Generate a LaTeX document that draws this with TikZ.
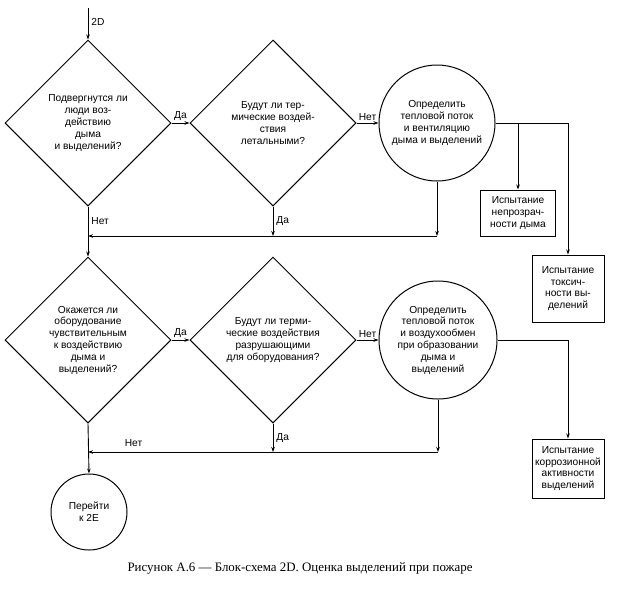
\documentclass[tikz,border=0pt]{standalone}
\usepackage{fontspec}
\setmainfont{Liberation Serif}
\setsansfont{Liberation Sans}
\usetikzlibrary{shapes.geometric,arrows.meta}
\begin{document}
\begin{tikzpicture}[x=1pt,y=-1pt,
  txt/.style={font=\sffamily\fontsize{10.2}{11.8}\selectfont, align=center},
  dia/.style={diamond, draw, line width=1pt, minimum width=166pt, minimum height=166pt, inner sep=0pt, txt},
  circ/.style={circle, draw, line width=1pt, inner sep=0pt, txt},
  tbox/.style={rectangle, draw, line width=1pt, inner sep=0pt, txt},
  lbl/.style={font=\sffamily\fontsize{10.2}{11.8}\selectfont, inner sep=1pt},
  line/.style={line width=0.9pt},
  arr/.style={line, -{Stealth[length=5pt,width=3.5pt]}}]
\useasboundingbox (0,0) rectangle (617,592);

\coordinate (start) at (88,8);
\node[dia] (d1) at (88,123) {Подвергнутся ли\\люди воз-\\действию\\дыма\\и выделений?};
\node[dia] (d2) at (273,123) {Будут ли тер-\\мические воздей-\\ствия\\летальными?};
\node[circ, minimum size=116pt] (c1) at (437,123) {Определить\\тепловой поток\\и вентиляцию\\дыма и выделений};
\node[tbox, minimum width=75pt, minimum height=46pt] (b1) at (518,213) {Испытание\\непрозрач-\\ности дыма};
\node[tbox, minimum width=72pt, minimum height=67pt] (b2) at (568,288.5) {Испытание\\токсич-\\ности вы-\\делений};

\node[dia] (d3) at (88,340) {Окажется ли\\оборудование\\чувствительным\\к воздействию\\дыма и\\выделений?};
\node[dia] (d4) at (273,340) {Будут ли терми-\\ческие воздействия\\разрушающими\\для оборудования?};
\node[circ, minimum size=118pt] (c2) at (438,340) {Определить\\тепловой поток\\и воздухообмен\\при образовании\\дыма и\\выделений};
\node[tbox, minimum width=72pt, minimum height=59pt] (b3) at (568,468.5) {Испытание\\коррозионной\\активности\\выделений};

\node[circ, minimum size=76pt] (c3) at (89,512) {Перейти\\к 2Е};

\coordinate (j1) at (437,236);
\coordinate (j2) at (438,452);
\coordinate (r1) at (568,123);
\coordinate (m1) at (518,123);
\coordinate (r2) at (568,340);

% top part
\draw[arr] (start) -- (d1.north) node[lbl, pos=0.45, right=2pt] {2D};
\draw[arr] (d1.east) -- (d2.west) node[lbl, midway, above=1pt] {Да};
\draw[arr] (d2.east) -- (c1.west) node[lbl, midway, above=1pt] {Нет};
\draw[line] (c1.east) -- (r1);
\draw[arr] (m1) -- (b1.north);
\draw[arr] (r1) -- (b2.north);
\draw[arr] (c1.south) -- (j1);
\draw[arr] (j1) -- (j1 -| d1.south);
\draw[arr] (d2.south) -- (d2.south |- j1) node[lbl, midway, right=2pt] {Да};
\draw[arr] (d1.south) -- (d3.north) node[lbl, pos=0.3, right=2pt] {Нет};

% bottom part
\draw[arr] (d3.east) -- (d4.west) node[lbl, midway, above=1pt] {Да};
\draw[arr] (d4.east) -- (c2.west) node[lbl, midway, above=1pt] {Нет};
\draw[line] (c2.east) -- (r2);
\draw[arr] (r2) -- (b3.north);
\draw[arr] (c2.south) -- (j2);
\draw[arr] (j2) -- (j2 -| d3.south) node[lbl, pos=0.87, above=4pt] {Нет};
\draw[arr] (d4.south) -- (d4.south |- j2) node[lbl, midway, right=2pt] {Да};
\draw[arr] (d3.south) -- (c3.north);

\node[font=\fontsize{12.9}{15}\selectfont] (cap) at (300,568) {Рисунок А.6 — Блок-схема 2D. Оценка выделений при пожаре};
\end{tikzpicture}
\end{document}
